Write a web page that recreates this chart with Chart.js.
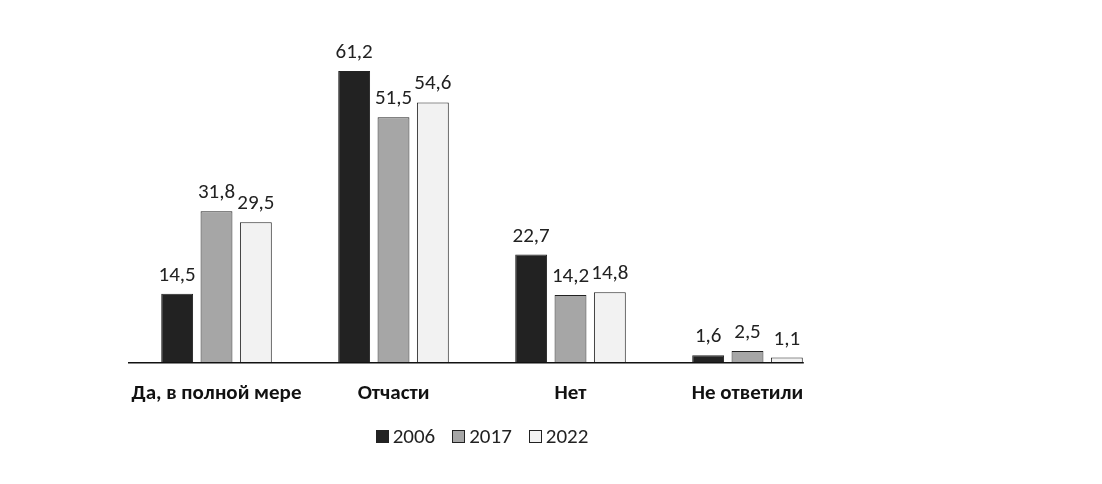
<!DOCTYPE html>
<html>
<head>
<meta charset="utf-8">
<script src="https://cdn.jsdelivr.net/npm/chart.js@4.4.0/dist/chart.umd.min.js"></script>
<style>
  html, body { margin: 0; padding: 0; background: #fff; }
  #wrap { width: 1102px; height: 484px; position: relative; }
  #legend {
    position: absolute; left: 128px; width: 708px; top: 424px; height: 24px;
    display: flex; justify-content: center; align-items: center;
    font-family: Carlito, 'Open Sans', sans-serif; font-size: 21px; color: #222;
  }
  #legend .item { display: flex; align-items: center; margin: 0 8.5px; }
  #legend .box { width: 11px; height: 11px; border: 1px solid #222; margin-right: 4px; }
</style>
</head>
<body>
<div id="wrap"><canvas id="chart"></canvas><div id="legend"></div></div>
<script>
// категорії та значення
const categories = ["Да, в полной мере", "Отчасти", "Нет", "Не ответили"];
const years = ["2006", "2017", "2022"];
const values2006 = [14.5, 61.2, 22.7, 1.6];
const values2017 = [31.8, 51.5, 14.2, 2.5];
const values2022 = [29.5, 54.6, 14.8, 1.1];

const fontFamily = "Carlito, 'Open Sans', sans-serif";
const fills = ["#222222", "#a6a6a6", "#f2f2f2"];

// підписи значень над стовпчиками
const valueLabels = {
  id: "valueLabels",
  afterDatasetsDraw: (chart) => {
    const { ctx } = chart;
    ctx.save();
    ctx.fillStyle = "#222";
    ctx.font = "21px " + fontFamily;
    ctx.textAlign = "center";
    ctx.textBaseline = "alphabetic";
    chart.data.datasets.forEach((ds, i) => {
      chart.getDatasetMeta(i).data.forEach((bar, j) => {
        const txt = ds.data[j].toFixed(1).replace(".", ",");
        ctx.fillText(txt, bar.x, bar.y - 13);
      });
    });
    ctx.restore();
  },
};

// лінія осі X до правого краю останнього стовпчика
const baseLine = {
  id: "baseLine",
  afterDatasetsDraw: (chart) => {
    const { ctx, chartArea } = chart;
    const last = chart.getDatasetMeta(2).data[3];
    const y = chart.scales.y.getPixelForValue(0);
    ctx.save();
    ctx.strokeStyle = "#111";
    ctx.lineWidth = 1.5;
    ctx.beginPath();
    ctx.moveTo(chartArea.left, y);
    ctx.lineTo(last.x + last.width / 2 + 1, y);
    ctx.stroke();
    ctx.restore();
  },
};

const seriesValues = [values2006, values2017, values2022];

const chart = new Chart(document.getElementById("chart"), {
  type: "bar",
  data: {
    labels: categories,
    datasets: years.map((year, i) => ({
      label: year,
      data: seriesValues[i],
      backgroundColor: fills[i],
      borderColor: "#222",
      borderWidth: 1,
      categoryPercentage: 0.667,
      barPercentage: 0.81,
    })),
  },
  options: {
    responsive: true,
    maintainAspectRatio: false,
    animation: false,
    layout: { padding: { left: 128, right: 266, top: 29, bottom: 60 } },
    scales: {
      x: {
        grid: { display: false, drawTicks: false },
        border: { display: false },
        ticks: {
          color: "#111",
          padding: 18,
          font: { family: fontFamily, size: 21, weight: "bold" },
        },
      },
      y: {
        display: false,
        min: 0,
        max: 70,
      },
    },
    plugins: {
      legend: { display: false },
      tooltip: { enabled: false },
    },
  },
  plugins: [valueLabels, baseLine],
});

// легенда
const legendEl = document.getElementById("legend");
chart.data.datasets.forEach((ds) => {
  const item = document.createElement("div");
  item.className = "item";
  const box = document.createElement("span");
  box.className = "box";
  box.style.background = ds.backgroundColor;
  item.appendChild(box);
  item.appendChild(document.createTextNode(ds.label));
  legendEl.appendChild(item);
});
</script>
</body>
</html>
